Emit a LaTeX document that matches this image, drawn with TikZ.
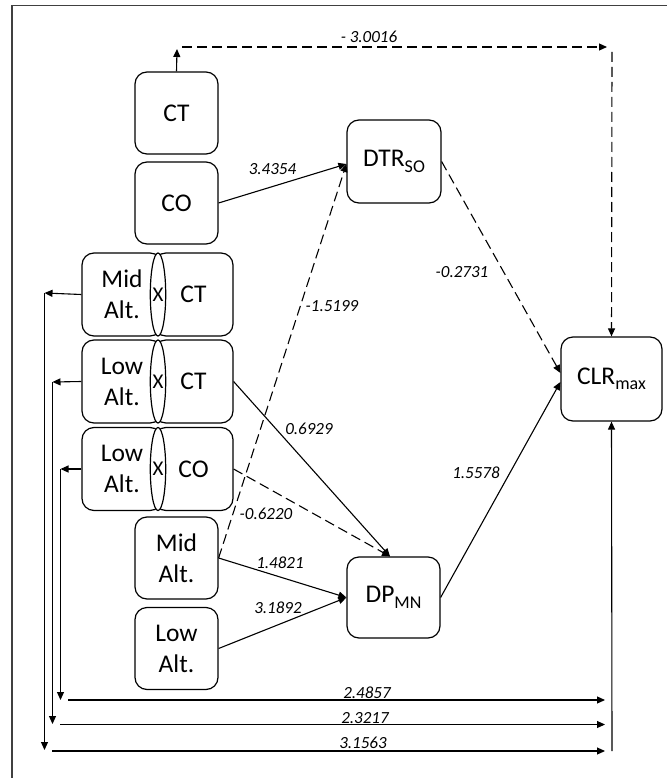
\documentclass[tikz,border=0pt]{standalone}
\usepackage{fontspec}
\setmainfont{Carlito}
\usetikzlibrary{arrows.meta,shapes.geometric}
\newcommand\subsc[1]{\raisebox{-5.5pt}{\fontsize{18}{18}\selectfont #1}}
\tikzset{
  box/.style={draw, rounded corners=12pt, line width=1.2pt, minimum width=83pt, minimum height=82pt, inner sep=0pt, font=\fontsize{25.5}{31}\selectfont, align=center},
  xell/.style={draw, ellipse, fill=white, line width=1.2pt, minimum width=14pt, minimum height=83pt, inner sep=0pt, font=\fontsize{21}{21}\selectfont},
  lbl/.style={font=\fontsize{17}{17}\selectfont\itshape, inner sep=0pt},
  arr/.style={-{Triangle[length=8pt,width=7pt]}, line width=1.1pt},
  dsh/.style={dash pattern=on 10pt off 5pt},
  frame/.style={line width=1.8pt, draw=black!75},
}
\begin{document}
\begin{tikzpicture}[x=1pt,y=-1pt]
\useasboundingbox (0,0) rectangle (667,778);
\draw[frame] (12,778) -- (12,5.5) -- (667,5.5);

% nodes
\node[box] (CT) at (176.5,113) {CT};
\node[box] (CO) at (176.5,203) {CO};
\node[box, minimum width=94pt, minimum height=83pt] (DTR) at (394,161.5) {DTR\subsc{SO}};
\node[box, minimum width=80pt, minimum height=83pt] (MXCL) at (122,294.5) {Mid\\Alt.};
\node[box, minimum width=79pt, minimum height=83pt] (MXCR) at (193.5,294.5) {CT};
\node[xell] (MXCX) at (158,294.5) {X};
\node[box, minimum width=80pt, minimum height=83pt] (LXCL) at (122,381.5) {Low\\Alt.};
\node[box, minimum width=79pt, minimum height=83pt] (LXCR) at (193.5,381.5) {CT};
\node[xell] (LXCX) at (158,381.5) {X};
\node[box, minimum width=80pt, minimum height=83pt] (LXOL) at (122,469) {Low\\Alt.};
\node[box, minimum width=79pt, minimum height=83pt] (LXOR) at (193.5,469) {CO};
\node[xell] (LXOX) at (158,469) {X};
\node[box] (MID) at (176.5,558) {Mid\\Alt.};
\node[box] (LOW) at (176.5,648.5) {Low\\Alt.};
\node[box, minimum width=93pt, minimum height=81pt] (DP) at (393.5,597.5) {DP\subsc{MN}};
\node[box, minimum width=101pt, minimum height=84pt] (CLR) at (611.5,379) {CLR\subsc{max}};

% coordinates
\coordinate (ctup) at (177,49);
\coordinate (topL) at (182,47);
\coordinate (topR) at (607,47);
\coordinate (rdn) at (612,52);
\coordinate (v1a) at (44.5,293);
\coordinate (v1b) at (44.5,750);
\coordinate (v2a) at (52.5,382);
\coordinate (v2b) at (52.5,724);
\coordinate (v3a) at (60.5,469);
\coordinate (v3b) at (60.5,700);
\coordinate (h1a) at (52,751);
\coordinate (h1b) at (605,751);
\coordinate (h2a) at (60,724.5);
\coordinate (h2b) at (605,724.5);
\coordinate (h3a) at (68,700);
\coordinate (h3b) at (605,700);
\coordinate (rup) at (612,751);

% top dashed path
\draw[arr] (CT.north) -- (ctup);
\draw[arr,dsh] (topL) -- (topR);
\draw[arr,dsh] (rdn) -- (CLR.north);
\node[lbl] (l1) at (369,37) {- 3.0016};

% into DTR
\draw[arr] (CO.east) -- ([yshift=-2.5pt]DTR.west);
\draw[arr,dsh] (MID.east) -- ([yshift=-2.5pt]DTR.west);
\node[lbl] (l2) at (272.5,169) {3.4354};
\node[lbl] (l3) at (332,306) {-1.5199};

% into DP
\draw[arr] (LXCR.east) -- ([xshift=-3.5pt]DP.north);
\draw[arr,dsh] (LXOR.east) -- ([xshift=-3.5pt]DP.north);
\draw[arr] (MID.east) -- (DP.west);
\draw[arr] (LOW.east) -- (DP.west);
\node[lbl] (l4) at (309,429) {0.6929};
\node[lbl] (l5) at (266,514) {-0.6220};
\node[lbl] (l6) at (280,563) {1.4821};
\node[lbl] (l7) at (278,608) {3.1892};

% into CLR
\draw[arr,dsh] (DTR.east) -- ([yshift=6pt]CLR.west);
\draw[arr] (DP.east) -- ([yshift=-3pt]CLR.west);
\node[lbl] (l8) at (462,272) {-0.2731};
\node[lbl] (l9) at (476,473) {1.5578};

% interaction paths
\draw[arr] (MXCL.west) -- (v1a);
\draw[arr] (v1a) -- (v1b);
\draw[arr] (h1a) -- (h1b);
\draw[arr] (LXCL.west) -- (v2a);
\draw[arr] (v2a) -- (v2b);
\draw[arr] (h2a) -- (h2b);
\draw[arr] (LXOL.west) -- (v3a);
\draw[arr] (v3a) -- (v3b);
\draw[arr] (h3a) -- (h3b);
\draw[arr] (rup) -- (CLR.south);
\node[lbl] (l10) at (367,693) {2.4857};
\node[lbl] (l11) at (365,718) {2.3217};
\node[lbl] (l12) at (363,743) {3.1563};
\end{tikzpicture}
\end{document}
